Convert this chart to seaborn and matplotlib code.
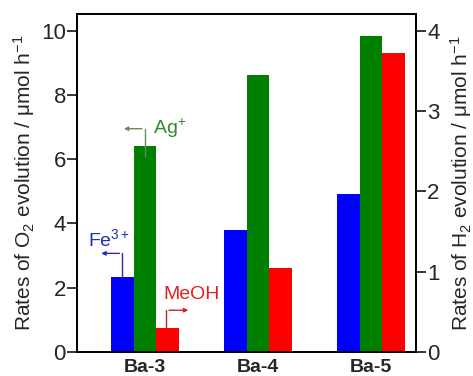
import matplotlib
matplotlib.use("Agg")
import matplotlib.pyplot as plt
import seaborn as sns
import pandas as pd

categories = ["Ba-3", "Ba-4", "Ba-5"]
fe3_o2 = [2.32, 3.8, 4.91]      # left axis, O2
ag_o2 = [6.41, 8.62, 9.84]      # left axis, O2
meoh_h2 = [0.30, 1.04, 3.72]    # right axis, H2
series = ["Fe3+", "Ag+", "MeOH"]
colors = {"Fe3+": "#0000FF", "Ag+": "#008000", "MeOH": "#FF0000"}

sns.set_style("white")
plt.rcParams["font.family"] = ["Liberation Sans", "DejaVu Sans"]
plt.rcParams["mathtext.fontset"] = "custom"
plt.rcParams["mathtext.rm"] = "Liberation Sans"
plt.rcParams["mathtext.it"] = "Liberation Sans:italic"
plt.rcParams["mathtext.bf"] = "Liberation Sans:bold"

df_left = pd.DataFrame({
    "cat": categories * 2,
    "series": ["Fe3+"] * 3 + ["Ag+"] * 3,
    "val": fe3_o2 + ag_o2,
})
df_right = pd.DataFrame({"cat": categories, "series": ["MeOH"] * 3, "val": meoh_h2})

fig = plt.figure(figsize=(4.73, 3.76), dpi=100)
ax = fig.add_axes([77 / 473, 24 / 376, (416 - 77) / 473, (352 - 14) / 376])
ax2 = ax.twinx()

sns.barplot(data=df_left, x="cat", y="val", hue="series", hue_order=series,
            order=categories, palette=colors, width=0.6, saturation=1, dodge=True,
            errorbar=None, ax=ax, legend=False, linewidth=0)
sns.barplot(data=df_right, x="cat", y="val", hue="series", hue_order=series,
            order=categories, palette=colors, width=0.6, saturation=1, dodge=True,
            errorbar=None, ax=ax2, legend=False, linewidth=0)

ax.set_xlim(-0.6, 2.4)
ax.set_ylim(0, 10.52)
ax2.set_ylim(0, 10.52 / 2.5)
ax.set_yticks([0, 2, 4, 6, 8, 10])
ax2.set_yticks([0, 1, 2, 3, 4])

for a in (ax, ax2):
    for s in a.spines.values():
        s.set_visible(True)
        s.set_color("black")
        s.set_linewidth(1.3)
ax.tick_params(axis="y", direction="out", length=7, width=1.3, labelsize=16, pad=1)
ax2.tick_params(axis="y", direction="out", length=7, width=1.3, labelsize=16, pad=1)
ax.tick_params(axis="x", length=0, labelsize=14, pad=5)
for lbl in ax.get_xticklabels():
    lbl.set_fontweight("bold")

ax.set_xlabel("")
ax.set_ylabel(r"Rates of O$_2$ evolution / μmol h$^{-1}$", fontsize=15, labelpad=3)
ax2.set_ylabel(r"Rates of H$_2$ evolution / μmol h$^{-1}$", fontsize=15, labelpad=6)

# annotations (bar-linked arrows)
ax.annotate("", xy=(-0.41, 3.07), xytext=(-0.2, 3.07), xycoords="data",
            arrowprops=dict(arrowstyle="-|>", color="#2a2ab8", lw=1, mutation_scale=6))
ax.plot([-0.2, -0.2], [fe3_o2[0], 3.07], color="#2a2ab8", lw=1)
ax.text(-0.5, 3.5, "Fe$^{3+}$", color="#1f2fbf", fontsize=14, va="center", ha="left")

ax.annotate("", xy=(-0.21, 6.95), xytext=(0.0, 6.95),
            arrowprops=dict(arrowstyle="-|>", color="#6b8a5a", lw=1, mutation_scale=6))
ax.plot([0.0, 0.0], [6.1, 6.95], color="#6b8a5a", lw=1, zorder=5)
ax.text(0.07, 6.95, "Ag$^{+}$", color="#2e8b2e", fontsize=14, va="center", ha="left")

ax.annotate("", xy=(0.41, 1.3), xytext=(0.19, 1.3),
            arrowprops=dict(arrowstyle="-|>", color="#d02020", lw=1, mutation_scale=6))
ax.plot([0.19, 0.19], [0.76, 1.3], color="#d02020", lw=1)
ax.text(0.16, 1.78, "MeOH", color="#e02020", fontsize=14, va="center", ha="left")

fig.savefig("out.png", dpi=100)
